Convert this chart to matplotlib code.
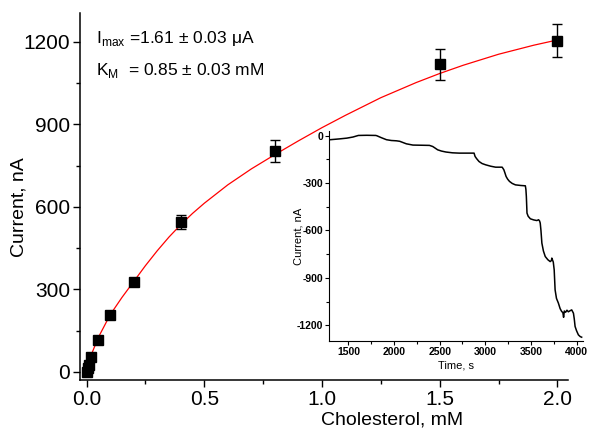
import numpy as np
import matplotlib.pyplot as plt
from matplotlib.ticker import MultipleLocator

plt.rcParams['font.family'] = ['Liberation Sans', 'DejaVu Sans']

# calibration points (cholesterol, mM -> current, nA)
conc = [0.0, 0.005, 0.01, 0.02, 0.05, 0.1, 0.2, 0.4, 0.8, 1.5, 2.0]
current = [0, 12, 25, 55, 116, 207, 328, 546, 803, 1118, 1205]
current_err = [3, 3, 4, 5, 6, 8, 10, 25, 40, 56, 59]

# red fit curve
fit_x = [0.0, 0.02, 0.05, 0.1, 0.15, 0.2, 0.25, 0.3, 0.35, 0.4, 0.45, 0.5, 0.6,
         0.7, 0.8, 0.9, 1.0, 1.1, 1.25, 1.4, 1.5, 1.6, 1.75, 1.9, 2.0]
fit_y = [0, 62, 125, 207, 270, 328, 386, 440, 490, 535, 576, 613, 680,
         738, 790, 840, 888, 933, 997, 1052, 1085, 1115, 1155, 1188, 1207]

# inset trace (time, s -> current, nA)
trace_t = [1300, 1400, 1483, 1550, 1609, 1700, 1800, 1812, 1860, 1917, 1970, 2026,
           2062, 2135, 2207, 2300, 2388, 2424, 2450, 2478, 2520, 2569, 2640, 2714,
           2800, 2877, 2888, 2905, 2931, 2965, 3004, 3060, 3113, 3185, 3203, 3215,
           3228, 3245, 3265, 3295, 3330, 3390, 3439, 3445, 3450, 3457, 3470, 3494,
           3530, 3565, 3584, 3595, 3602, 3610, 3620, 3637, 3657, 3685, 3711, 3725,
           3729, 3745, 3755, 3765, 3780, 3801, 3820, 3837, 3850, 3858, 3866, 3880,
           3895, 3910, 3930, 3947, 3966, 3975, 3984, 4000, 4020, 4040, 4056]
trace_i = [-25, -20, -15, -8, 2, 3, 2, 0, -12, -25, -30, -32,
           -35, -51, -59, -60, -61, -68, -78, -89, -97, -103, -108, -110,
           -110, -110, -131, -145, -163, -176, -184, -193, -199, -199, -215, -235,
           -258, -275, -289, -302, -311, -315, -317, -340, -385, -490, -510, -526,
           -533, -537, -532, -540, -553, -600, -680, -730, -765, -785, -797, -790,
           -775, -800, -849, -976, -1030, -1060, -1095, -1113, -1120, -1150, -1110,
           -1118, -1105, -1115, -1108, -1103, -1124, -1160, -1208, -1235, -1261, -1272, -1276]

inset_xticks = [1500, 2000, 2500, 3000, 3500, 4000]
inset_yticks = [-1200, -900, -600, -300, 0]

fig = plt.figure(figsize=(5.89, 4.34), dpi=100)
ax = fig.add_axes([0.1358, 0.1244, 0.8285, 0.8456])

ax.plot(fit_x, fit_y, color='red', lw=0.9, zorder=2)
ax.errorbar(conc, current, yerr=current_err, fmt='s', color='black', ms=7.5,
            ecolor='black', elinewidth=1.0, capsize=3.5, capthick=1.0, zorder=3)

ax.set_xlim(-0.028, 2.045)
ax.set_ylim(-30, 1305)
ax.xaxis.set_major_locator(MultipleLocator(0.5))
ax.xaxis.set_minor_locator(MultipleLocator(0.25))
ax.yaxis.set_major_locator(MultipleLocator(300))
ax.yaxis.set_minor_locator(MultipleLocator(150))
ax.xaxis.set_major_formatter(plt.FormatStrFormatter('%.1f'))
for s in ['top', 'right']:
    ax.spines[s].set_visible(False)
for s in ['left', 'bottom']:
    ax.spines[s].set_linewidth(1.1)
ax.tick_params(which='major', direction='out', length=5, width=1.0, labelsize=15, pad=2)
ax.tick_params(which='minor', direction='out', length=3, width=1.0)
ax.set_xlabel('Cholesterol, mM', fontsize=14)
ax.xaxis.set_label_coords(0.64, -0.085)
ax.set_ylabel('Current, nA', fontsize=14)
ax.yaxis.set_label_coords(-0.107, 0.47)

ax.text(0.033, 0.919, r'I$_{\mathregular{max}}$ =1.61 ± 0.03 μA', transform=ax.transAxes,
        fontsize=12.5, va='baseline')
ax.text(0.033, 0.831, r'K$_{\mathregular{M}}$  = 0.85 ± 0.03 mM', transform=ax.transAxes,
        fontsize=12.5, va='baseline')

# inset: chronoamperometric trace
ins = fig.add_axes([0.559, 0.2143, 0.4307, 0.4838])
ins.patch.set_alpha(0)
ins.plot(trace_t, trace_i, color='black', lw=1.1)
ins.set_xlim(1290, 4070)
ins.set_ylim(-1300, 30)
ins.set_xticks(inset_xticks, [str(v) for v in inset_xticks], fontweight='bold')
ins.set_yticks(inset_yticks, [str(v) for v in inset_yticks], fontweight='bold')
ins.xaxis.set_minor_locator(MultipleLocator(250))
ins.yaxis.set_minor_locator(MultipleLocator(150))
for s in ['top', 'right']:
    ins.spines[s].set_visible(False)
ins.tick_params(which='major', direction='out', length=3, width=0.8, labelsize=7.5, pad=1.5)
ins.tick_params(which='minor', direction='out', length=2, width=0.8)
ins.set_xlabel('Time, s', fontsize=8, labelpad=2)
ins.set_ylabel('Current, nA', fontsize=8)
ins.yaxis.set_label_coords(-0.1, 0.5)

fig.savefig('out.png', dpi=100)
